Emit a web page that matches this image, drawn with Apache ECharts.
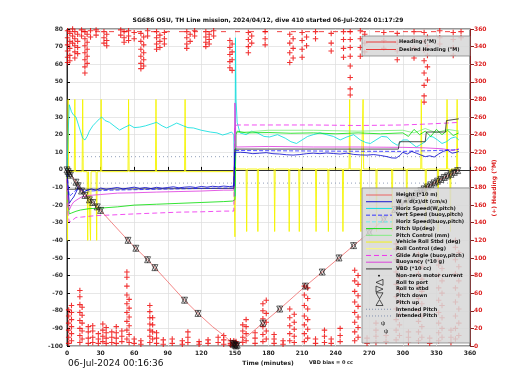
<!DOCTYPE html>
<html><head><meta charset="utf-8">
<script src="https://cdn.jsdelivr.net/npm/echarts@6/dist/echarts.min.js"></script>
<style>html,body{margin:0;padding:0;background:#fff}#c{width:520px;height:390px}</style>
</head><body><div id="c"></div>
<script>
// ---------------- DATA ----------------
const titleText = 'SG686 OSU, TH Line mission, 2024/04/12, dive 410 started 06-Jul-2024 01:17:29';
const xTicks = [0,30,60,90,120,150,180,210,240,270,300,330,360];
const depth = [[0,0],[3,-2],[8,-7],[13,-12],[18,-15.5],[23,-18.5],[30,-23],[40,-30],[54.5,-40],[61.5,-44.5],[72,-51],[78.5,-55.5],[90,-63.5],[105,-74],[117,-81.5],[130,-89],[140,-94],[148,-98.5],[151,-100],[152,-99.5],[160,-95],[175,-87],[190,-79],[205,-70.5],[213,-66],[228,-58],[243,-50],[256,-43],[270,-35.5],[283,-28],[295,-21.5],[304,-17],[315,-12.5],[325,-8.5],[335,-5],[343,-2.5],[350,0]];
const pitchMarks = [[0,0],[1,-1],[2,-2],[3,-3],[8,-7],[10,-9],[13,-12],[16,-14.5],[20,-17],[23,-18.5],[27,-21],[30,-23],[54.5,-40],[61.5,-44.5],[72,-51],[78.5,-55.5],[105,-74],[117,-81.5],[148,-98.5],[149,-99],[150,-99.5],[151,-100],[152,-99.5],[175,-87],[190,-79],[213,-66],[228,-58],[243,-50],[256,-43],[270,-35.5],[283,-28],[293,-22.5],[298,-20],[304,-17],[307,-15.8],[310,-14.5],[313,-13.3],[316,-12],[319,-10.8],[322,-9.7],[325,-8.5],[328,-7.4],[331,-6.4],[334,-5.4],[337,-4.3],[340,-3.4],[343,-2.5],[346,-1.4],[349,-0.4]];
const horizSpeedW = [[0,-1],[1,20],[2,37],[3,36],[4,33],[5,34],[6,31],[8,30],[10,26],[12,22],[14,18],[16,17],[18,19],[20,22],[23,25],[26,27],[29,29],[31,30],[34,28],[38,27],[42,25],[47,22.6],[51,24],[56,25.5],[60,24],[65,24.3],[70,25],[75,26],[80,27],[85,25],[89,23.8],[93,25],[98,26.6],[104,25],[108,24],[113,23.8],[120,22.5],[128,21.5],[134,21],[139,19.8],[143,20.5],[147,21.5],[149,20],[150,-15],[150.5,75],[151,40],[152,27],[154.5,21],[160,20],[165,22],[170,21],[176,19],[181,18.7],[188,20],[195,18],[200,16],[205,15],[210,17],[215,19],[220,20],[226,21],[232,20],[238,19],[244,17],[250,18.7],[256,20],[262,17],[267,15.5],[271,15],[276,17],[281,19],[286,18.7],[290,16],[295,14],[300,17],[304,17],[308,15],[312,13],[315,14],[320,16],[324,19],[327,18.7],[331,17],[335,15],[339,16],[343,18],[347,18.7],[350,17]];
const pitchUp = [[0,-2],[1,-20],[2,-25],[4,-24.5],[8,-23.5],[12,-22.8],[20,-22],[30,-21.7],[45,-21],[60,-20],[80,-19.5],[100,-19],[120,-18.5],[140,-18],[148,-17.7],[150,-17],[151,20],[152,22],[160,21],[180,21.2],[200,20.8],[220,21],[240,20.5],[260,21],[280,20.5],[300,21],[305,19],[310,23],[315,20],[320,22],[325,19],[330,23],[335,20],[340,22.5],[345,19.5],[350,21]];
const pitchControl = [[150,21],[180,22.5],[220,22.5],[260,22],[300,22.5],[310,21],[320,23.5],[330,21],[340,23],[350,22]];
const glideAngle = [[0,-5],[1,-25],[2,-29.6],[4,-29],[8,-27],[13,-26.8],[25,-26],[40,-25.6],[60,-25],[80,-24.5],[100,-24],[120,-23.8],[140,-23.4],[149,-23.4],[150,25],[152,25.5],[180,25.5],[220,25.5],[260,25.2],[300,25.5],[320,26],[340,26.6],[350,27]];
const buoyancy = [[0,-5],[2,-22.8],[4,-20],[6,-18.2],[10,-16.5],[13,-15.4],[20,-14.5],[30,-14],[45,-13.2],[60,-13],[80,-12.6],[100,-12.3],[120,-12],[140,-11.5],[149,-11.5],[150,38],[151,13],[180,13.3],[220,13],[260,13],[300,12.8],[320,12.5],[335,12],[345,11],[350,12]];
const vbd = [[0,-11],[1,-11.5],[149,-10.5],[150,11.8],[296,11.8],[297,16],[320,16],[321,21.5],[338,21.5],[339,28],[350,29]];
const wSpeed = [[0,0],[1,-10],[2,-19],[4,-17],[6,-15.4],[9,-11.5],[10,-9.2],[12,-11],[15,-12.6],[18,-11.5],[22,-10.8],[26,-11.6],[30,-10.3],[35,-11],[40,-10.5],[45,-10],[50,-10.8],[55,-10.3],[60,-9.8],[65,-10.5],[70,-10],[75,-10.6],[80,-9.9],[85,-10.4],[90,-10],[95,-9.6],[100,-10.2],[105,-9.8],[110,-9.6],[115,-10],[120,-9.4],[125,-9.8],[130,-9.3],[135,-9.6],[140,-9.2],[145,-9.5],[149,-9.2],[150,10],[155,10],[160,9.8],[166,9.2],[172,9.5],[178,9.8],[184,9.2],[190,9.0],[196,8.6],[202,8.4],[208,8.7],[214,9.2],[220,9.5],[226,9.2],[232,9.6],[238,9.3],[244,9],[250,9.5],[256,8.8],[262,8.5],[268,8.4],[274,8.7],[280,8.2],[286,7.5],[290,6.8],[294,6.7],[297,8],[300,10],[304,9],[308,10.5],[312,9.5],[316,8.5],[320,7.5],[324,8],[328,7.3],[332,9],[336,10.5],[340,11.2],[344,9.5],[348,10],[350,10.5]];
const vertSpeedBuoy = [[0,-2],[2,-15],[4,-14],[7,-12],[10,-11],[20,-12],[40,-11.5],[80,-11],[120,-10.5],[149,-10.3],[150,11],[200,10.8],[250,10.6],[300,10.5],[330,11],[350,11.5]];
const rollControl = [[0,0],[0.5,-40],[1,40],[1.5,-1],[6.5,-1],[7,40],[7.5,-1],[13.5,-1],[14,40],[14.5,-1],[18,-1],[18.5,-40],[19,-1],[20.5,-1],[21,-40],[21.5,-1],[26,-1],[26.5,-40],[27,-1],[30,-1],[30.5,40],[31,-1],[54.5,-1],[55,40],[55.5,-1],[79,-1],[79.5,40],[80,-1],[105,-1],[105.5,40],[106,-1],[149,-1],[150,-38],[150.5,0.5],[160,0.5],[160.5,-35],[161,0.5],[170,0.5],[170.5,-35],[171,0.5],[185,0.5],[185.5,-35],[186,0.5],[198,0.5],[198.5,-35],[199,0.5],[207,0.5],[207.5,-35],[208,0.5],[222,0.5],[222.5,-35],[223,0.5],[233,0.5],[233.5,-35],[234,0.5],[246,0.5],[246.5,-35],[247,0.5],[252,0.5],[252.5,40],[253,0.5],[262,0.5],[262.5,-35],[263,0.5],[264,0.5],[264.5,40],[265,0.5],[276,0.5],[276.5,-35],[277,0.5],[290,0.5],[290.5,-35],[291,0.5],[303,0.5],[303.5,-35],[304,0.5],[316,0.5],[316.5,40],[317,0.5],[320,0.5],[320.5,-35],[321,0.5],[331,0.5],[331.5,-35],[332,0.5],[339,0.5],[339.5,40],[340,0.5],[342,0.5],[342.5,-35],[343,0.5],[348,0.5],[348.5,40],[349,0.5],[350,0.5]];
const intendedPitchUp = [[0,7.5],[350,7.5]];
const intendedPitchDown = [[0,-7.5],[350,-7.5]];
const desiredHeading = [[0,357],[350,357]];
const headingTop = [
[0.5,[358,350,342,335,328,322]],[2.5,[355,346,338,330,324]],[5,[360,352,344]],[7,[357,349,341,334,327]],[9.5,[354,346,339,332]],[13,[359,352]],
[16,[357,349,341,333,325,317,310]],[18,[354,345,337,329,321]],[21,[358,351]],[26,[359,353]],[33,[357,350,344]],[35.5,[354,347,341]],
[48,[359,353]],[51,[357,350,345]],[55,[358,352,347]],[60,[356,349]],[66,[355,346,337,329,321,315]],[68.5,[351,342,333,325,318]],
[72,[358,352]],[80,[357,350,343,337]],[83,[353,346,339]],[87,[356,349,343]],[107,[357,350,343,338]],[110,[354,346]],[114,[358,352]],
[124,[357,351,345,340]],[127,[354,348,343]],[131,[358,352]],[145.5,[347,339,331,323,316]],[147.5,[343,334,325,313]],
[162,[356,348,340,333]],[165,[352,344]],[177,[357,349,342]],[199,[354,344,333,322]],[202,[349,338,327]],[210,[356,347,337,328]],
[214,[351,341]],[222,[357,349]],[236,[355,344,335]],[247,[357,348,338,328]],[253,[357,348,339,329,318,305,292,285]],
[262,[358,349,339,329]],[266,[354,344,334]],[283,[356,347,338]],[295,[355,345,335,325]],[310,[357,348,338,327]],
[319,[356,346,336,324,310,296,284,277]],[322,[351,341,330,317,302]],[333,[358,350,343]],[345,[356,348,339,330]],[352,[357,350]]
];
const headingBottom = [
[1.5,[3,10,18,26,34,41]],[4,[6,14,22,30,38,46]],[11.5,[4,12,20,29,38,47,56,63]],[13.5,[8,17,26,35,44]],[19,[3,9,16,22]],[23,[4,10,17,23]],
[28,[3,8,14]],[32,[5,11,18,25]],[35,[3,9,15,21]],[40,[4,10,16]],[44,[3,9,15,22]],[49,[5,11,17]],[53.5,[8,18,28,38,48,58,68,78,84]],
[55.5,[4,13,23,33,43,53]],[60,[3,8]],[66,[2,6]],[74,[4,11,18,25,32,39,46]],[76.5,[8,16,24,32]],[80,[3,9,15]],[86,[2,7]],[94,[3,8]],
[103,[2,6]],[108,[4,10,16]],[118,[2,5]],[126,[3,7]],[135,[4,10]],[140,[2,7,12]],[146,[1,3,6]],[149,[1,2,4,6]],[151,[1,3,5]],
[157,[4,10,17,24]],[160,[6,14,22,30]],[168,[3,9,15]],[175,[5,13,22,31,40,48]],[178,[8,17,27,37,52]],[185,[3,8,13]],[193,[2,6]],
[199,[6,14,23,32,42]],[203,[4,11,19,27,36]],[212,[5,14,24,34,46,58,68]],[215,[9,19,30,42,54,66]],[222,[3,8]],[230,[4,11,18]],
[236,[3,8]],[244,[5,12,20]],[257,[6,16,27,38,50,62,74,86]],[260,[10,21,33,45,57,70,80]],[268,[3,9]],[276,[4,11,18,26]],[285,[5,12]],
[294,[7,18,30,42,56,70,84,98,110,116]],[297,[12,24,36,50,64,78,92,104]],[305,[4,10,16]],[314,[6,16,28,40,54,68,82,96,104]],
[317,[10,22,34,48,62,76,90]],[324,[3,9]],[332,[6,15,26,38,52,66,80,92,98]],[335,[10,20,32,46,60,74,88]],[343,[4,10,18]],
[347,[8,20,34,50,66,82,98,112,120]],[350,[12,26,42,58,74,90,106]]
];
const legendLabels = ['Height (*10 m)','W = d(z)/dt (cm/s)','Horiz Speed(W,pitch)','Vert Speed (buoy,pitch)','Horiz Speed(buoy,pitch)','Pitch Up(deg)','Pitch Control (mm)','Vehicle Roll Stbd (deg)','Roll Control (deg)','Glide Angle (buoy,pitch)','Buoyancy (*10 g)','VBD (*10 cc)','Non-zero motor current','Roll to port','Roll to stbd','Pitch down','Pitch up','Intended Pitch','Intended Pitch'];
const headingLegend = ['Heading (°M)','Desired Heading (°M)'];
const dateText = '06-Jul-2024 00:16:36';
const xName = 'Time (minutes)';
const vbdText = 'VBD bias = 0 cc';
const rightName = '(+) Heading (°M)';

// ---------------- CHART ----------------
const headingPts = [];
headingTop.concat(headingBottom).forEach(([t, vs]) => vs.forEach(v => headingPts.push([t, v])));

const L = 67, T = 29, R = 470, B = 346;
const tickFont = {fontSize: 6, fontWeight: 'bold', fontFamily: 'DejaVu Sans'};
const plus = 'path://M4,0H6V4H10V6H6V10H4V6H0V4H4Z';

function line(data, color, opt) {
  return Object.assign({type: 'line', data, symbol: 'none', animation: false, silent: true,
    lineStyle: {color, width: 0.8}, z: 3}, opt || {});
}
const series = [
  {type:'scatter', yAxisIndex:1, data: headingPts, symbol: plus, symbolSize: 5.5, itemStyle:{color:'#ee0000'}, z:2, animation:false, silent:true},
  line(desiredHeading, '#ee1111', {yAxisIndex:1, lineStyle:{color:'#ee1111', width:0.8, type:[5,9]}, z:2}),
  line(intendedPitchUp, '#7788aa', {lineStyle:{color:'#7788aa', width:0.8, type:[1,3]}}),
  line(intendedPitchDown, '#7788aa', {lineStyle:{color:'#7788aa', width:0.8, type:[1,3]}}),
  line(rollControl, '#ffff33', {lineStyle:{color:'#f5f500', width:0.9}}),
  line(horizSpeedW, '#00dddd'),
  line(pitchControl, '#77ee77'),
  line(pitchUp, '#00dd00'),
  line(glideAngle, '#ee22ee', {lineStyle:{color:'#ee22ee', width:0.8, type:[5,3]}}),
  line(buoyancy, '#dd33dd'),
  line(vbd, '#222222'),
  line(vertSpeedBuoy, '#2222ff', {lineStyle:{color:'#2222ff', width:0.8, type:[4,2]}}),
  line(wSpeed, '#0000cc'),
  line(depth, '#ee5555', {lineStyle:{color:'#ee5555', width:0.7}, z:4}),
  {type:'scatter', data: pitchMarks, symbol:'triangle', symbolSize:6, itemStyle:{color:'rgba(0,0,0,0)', borderColor:'#111', borderWidth:0.8}, z:5, animation:false, silent:true},
  {type:'scatter', data: pitchMarks, symbol:'triangle', symbolRotate:180, symbolSize:6, itemStyle:{color:'rgba(0,0,0,0)', borderColor:'#111', borderWidth:0.8}, z:5, animation:false, silent:true}
];

// legend graphic
const g = [];
g.push({type:'rect', shape:{x:362, y:188, width:108, height:155}, style:{fill:'rgba(215,215,215,0.85)', stroke:'#777', lineWidth:0.7}, z:50});
const sampleStyles = [
  {c:'#ee5555'},{c:'#0000cc'},{c:'#00dddd'},{c:'#2222ff', d:[4,2]},{c:'#66eeee', d:[4,2]},{c:'#00dd00'},{c:'#77ee77'},{c:'#f5f500'},{c:'#ffff66'},
  {c:'#ee22ee', d:[5,3]},{c:'#dd33dd'},{c:'#222'},{dot:true},{sym:'left'},{sym:'right'},{sym:'down'},{sym:'up'},{c:'#7788aa', d:[1,2]},{c:'#7788aa', d:[1,2]}
];
legendLabels.forEach((lab, i) => {
  const y = 195 + i * 6.72;
  const s = sampleStyles[i];
  if (s.c) g.push({type:'line', shape:{x1:366, y1:y, x2:392, y2:y}, style:{stroke:s.c, lineWidth:0.9, lineDash:s.d || null}, z:51});
  if (s.dot) g.push({type:'circle', shape:{cx:379, cy:y, r:0.9}, style:{fill:'#000'}, z:51});
  if (s.sym) {
    const pts = {left:[[383,y-3],[383,y+3],[376,y]], right:[[376,y-3],[376,y+3],[383,y]], down:[[376,y-3],[383,y-3],[379.5,y+3]], up:[[376,y+3],[383,y+3],[379.5,y-3]]}[s.sym];
    g.push({type:'polygon', shape:{points:pts}, style:{fill:'none', stroke:'#111', lineWidth:0.7}, z:51});
  }
  g.push({type:'text', x:396, y:y, style:{text:lab, fontSize:5, fontWeight:'bold', fontFamily:'DejaVu Sans', fill:'#111', verticalAlign:'middle'}, z:52});
});
g.push({type:'text', x:381, y:323, style:{text:'ψ', fontSize:6, fill:'#111', verticalAlign:'middle'}, z:52});
g.push({type:'text', x:384, y:331, style:{text:'ψ', fontSize:6, fill:'#111', verticalAlign:'middle'}, z:52});
// heading legend
g.push({type:'rect', shape:{x:362, y:36, width:108, height:20}, style:{fill:'rgba(215,215,215,0.85)', stroke:'#777', lineWidth:0.7}, z:50});
headingLegend.forEach((lab, i) => {
  const y = 42 + i * 7.5;
  g.push({type:'line', shape:{x1:366, y1:y, x2:396, y2:y}, style:{stroke:'#ee1111', lineWidth:0.8}, z:51});
  g.push({type:'text', x:399, y:y, style:{text:lab, fontSize:5, fontWeight:'bold', fontFamily:'DejaVu Sans', fill:'#111', verticalAlign:'middle'}, z:52});
});
// texts
g.push({type:'text', x:268, y:20, style:{text:titleText, fontSize:6, fontWeight:'bold', fontFamily:'DejaVu Sans', fill:'#111', align:'center', verticalAlign:'middle'}});
g.push({type:'text', x:68, y:364, style:{text:dateText, fontSize:9, fontFamily:'DejaVu Sans', fill:'#111', verticalAlign:'middle'}});
g.push({type:'text', x:268, y:363, style:{text:xName, fontSize:6, fontWeight:'bold', fontFamily:'DejaVu Sans', fill:'#222', align:'center', verticalAlign:'middle'}});
g.push({type:'text', x:309, y:363, style:{text:vbdText, fontSize:5, fontWeight:'bold', fontFamily:'DejaVu Sans', fill:'#222', verticalAlign:'middle'}});
g.push({type:'text', x:494, y:188, rotation:Math.PI/2, style:{text:rightName, fontSize:6, fontWeight:'bold', fontFamily:'DejaVu Sans', fill:'#dd2222', align:'center', verticalAlign:'middle'}});

const chart = echarts.init(document.getElementById('c'), null, {renderer:'canvas'});
chart.setOption({
  animation: false,
  backgroundColor: '#fff',
  grid: {left: L, top: T, right: 520 - R, bottom: 390 - B, show: true, borderColor: '#000', borderWidth: 0.8, backgroundColor: 'transparent'},
  xAxis: {type:'value', min:xTicks[0], max:xTicks[xTicks.length-1], interval:30,
    axisLine:{lineStyle:{color:'#000', width:0.8}}, axisTick:{inside:true, length:3, lineStyle:{color:'#000'}},
    axisLabel:Object.assign({color:'#222', margin:4}, tickFont),
    splitLine:{show:true, lineStyle:{color:'#dcdcdc', width:0.7}}},
  yAxis: [
    {type:'value', min:-100, max:80, interval:10, position:'left',
      axisLine:{show:true, lineStyle:{color:'#000', width:0.8}}, axisTick:{show:true, inside:true, length:3, lineStyle:{color:'#000'}},
      axisLabel:Object.assign({color:'#333', margin:4}, tickFont),
      splitLine:{show:true, lineStyle:{color:'#dcdcdc', width:0.7}}},
    {type:'value', min:0, max:360, interval:20, position:'right',
      axisLine:{show:true, lineStyle:{color:'#8b2020', width:1}}, axisTick:{show:true, inside:false, length:4, lineStyle:{color:'#8b2020'}},
      axisLabel:Object.assign({color:'#dd2222', margin:4}, tickFont),
      splitLine:{show:false}}
  ],
  series,
  graphic: g
});
</script></body></html>
